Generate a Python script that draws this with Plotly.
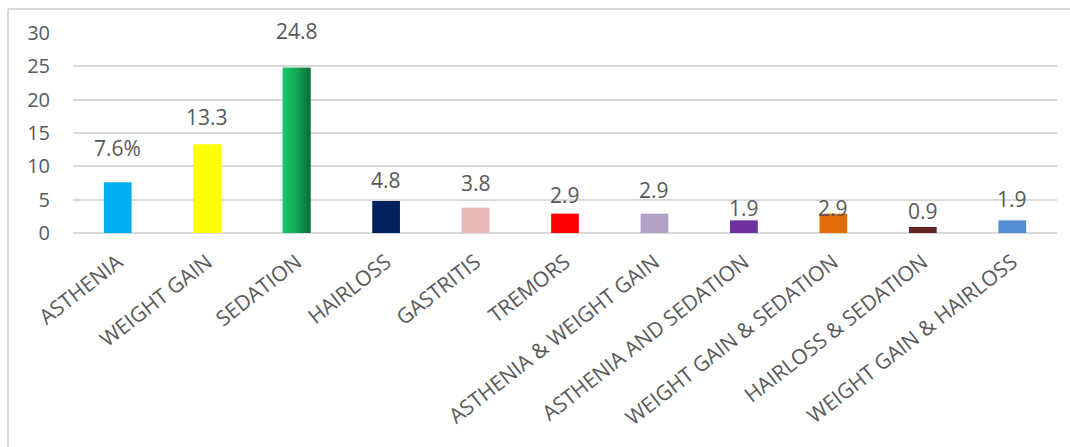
import plotly.graph_objects as go

categories = ["ASTHENIA", "WEIGHT GAIN", "SEDATION", "HAIRLOSS", "GASTRITIS", "TREMORS",
              "ASTHENIA & WEIGHT GAIN", "ASTHENIA AND SEDATION", "WEIGHT GAIN & SEDATION",
              "HAIRLOSS & SEDATION", "WEIGHT GAIN & HAIRLOSS"]
values = [7.6, 13.3, 24.8, 4.8, 3.8, 2.9, 2.9, 1.9, 2.9, 0.9, 1.9]
labels = ["7.6%", "13.3", "24.8", "4.8", "3.8", "2.9", "2.9", "1.9", "2.9", "0.9", "1.9"]
colors = ["#00b0f0", "#ffff00", "#10a854", "#002060", "#e6b9b8", "#ff0000",
          "#b3a2c7", "#7030a0", "#e36c09", "#632523", "#558ed5"]
# style: label offset above bar top (px), as in original
label_shift = [34, 27, 37, 21, 25, 19, 24, 12, 6, 16, 21]
y_ticks = [0, 5, 10, 15, 20, 25, 30]

W, H = 1070, 447
L, R, T, B = 73, 13, 33, 214
bar_w = 0.31
gray = "#595959"
grid = "#d9d9d9"
font_family = "Open Sans, Liberation Sans, sans-serif"

xs = list(range(len(categories)))

fig = go.Figure()
fig.add_trace(go.Bar(x=xs, y=values, width=bar_w, marker=dict(color=colors, line=dict(width=0)),
                     hoverinfo="skip", showlegend=False))

# gradient overlay for SEDATION bar
i = categories.index("SEDATION")
v = values[i]
fig.add_trace(go.Scatter(
    x=[i - bar_w / 2, i + bar_w / 2, i + bar_w / 2, i - bar_w / 2, i - bar_w / 2],
    y=[0, 0, v, v, 0], mode="lines", line=dict(width=0), fill="toself",
    fillgradient=dict(type="horizontal", colorscale=[[0, "#17c96b"], [0.5, "#12a655"], [1, "#0b6a35"]]),
    hoverinfo="skip", showlegend=False))

for xi, val, lab, sh in zip(xs, values, labels, label_shift):
    fig.add_annotation(x=xi, y=val, text=lab, showarrow=False, yshift=sh, yanchor="middle",
                       font=dict(family=font_family, size=21, color=gray))

# frame (top and left edges visible)
px = lambda p: (p - L) / (W - L - R)
py = lambda p: 1 - (p - T) / (H - T - B)
fig.add_shape(type="line", xref="paper", yref="paper", x0=px(8), x1=px(1075), y0=py(9), y1=py(9),
              line=dict(color=grid, width=2))
fig.add_shape(type="line", xref="paper", yref="paper", x0=px(8), x1=px(8), y0=py(9), y1=py(450),
              line=dict(color=grid, width=2))

fig.update_layout(
    width=W, height=H, margin=dict(l=L, r=R, t=T, b=B),
    paper_bgcolor="white", plot_bgcolor="white",
    font=dict(family=font_family, color=gray),
    xaxis=dict(range=[-0.5, len(categories) - 0.5], tickmode="array", tickvals=xs, ticktext=categories,
               tickangle=-38, tickfont=dict(size=21, color=gray), showgrid=False, zeroline=False,
               showline=False, ticks="", ticklabelstandoff=12),
    yaxis=dict(range=[0, 30], tickmode="array", tickvals=y_ticks, showgrid=True, gridcolor=grid,
               gridwidth=1.5, zeroline=True, zerolinecolor=grid, zerolinewidth=1.5,
               tickfont=dict(size=20, color=gray), ticklabelstandoff=22, showline=False),
    bargap=0.69,
)

fig.write_html("out.html")
